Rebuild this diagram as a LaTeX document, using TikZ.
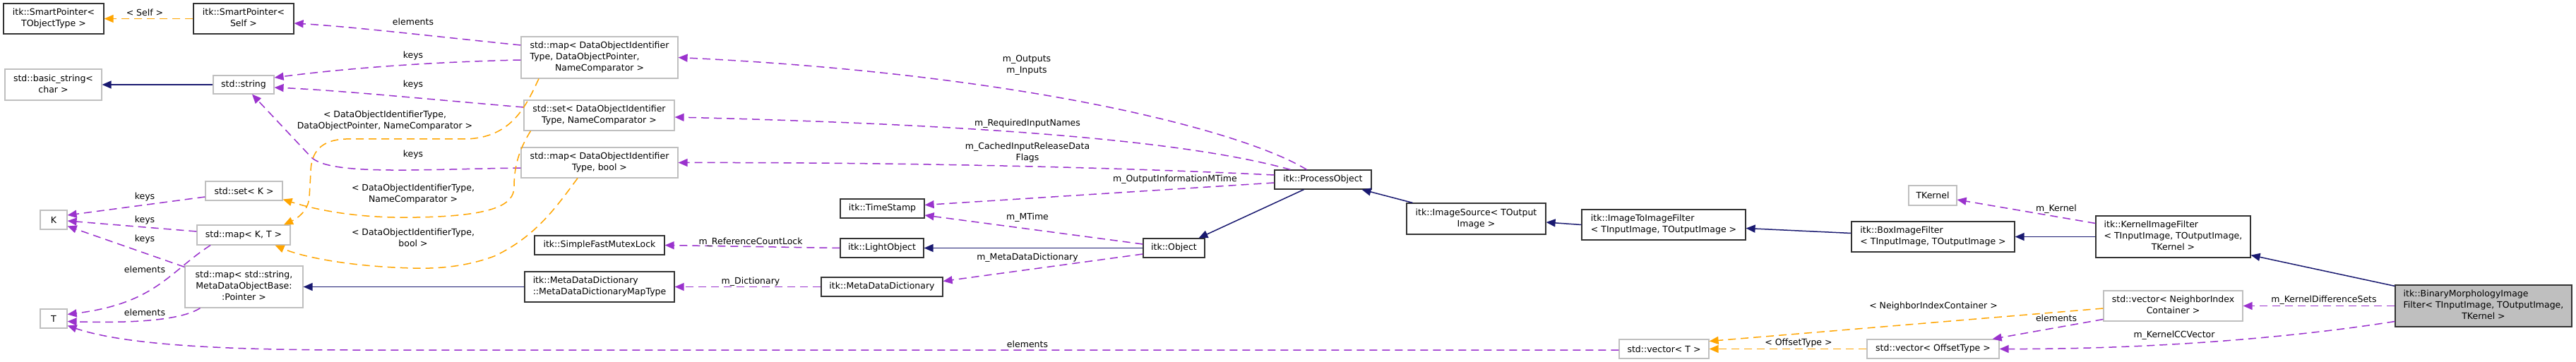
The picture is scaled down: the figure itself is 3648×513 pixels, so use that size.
\documentclass[tikz,border=0pt]{standalone}
\usepackage{fontspec}
\setmainfont{DejaVu Sans}
\usetikzlibrary{arrows.meta,calc}
\definecolor{pur}{HTML}{9A32CD}
\definecolor{org}{HTML}{FFA500}
\definecolor{nav}{HTML}{191970}
\definecolor{gbd}{HTML}{BFBFBF}
\definecolor{bbd}{HTML}{333333}
\newcommand{\Ltab}[1]{\begin{tabular}{@{}l@{}}#1\end{tabular}}
\newcommand{\Ctab}[1]{\begin{tabular}{@{}c@{}}#1\end{tabular}}
\newcommand{\Cl}[1]{\multicolumn{1}{@{}c@{}}{#1}}
\begin{document}
\begin{tikzpicture}[x=0.5pt,y=-0.5pt,
  every node/.style={font=\fontsize{6.25}{8}\selectfont, inner sep=0pt},
  cls/.style 2 args={draw=bbd, line width=0.6pt, fill=white, minimum width=#1*0.5pt, minimum height=#2*0.5pt},
  ext/.style 2 args={draw=gbd, line width=0.6pt, fill=white, minimum width=#1*0.5pt, minimum height=#2*0.5pt},
  usg/.style={draw=pur, line width=0.75pt, dash pattern=on 5.5pt off 3.5pt, -{Triangle[length=6.5pt,width=5.5pt]}},
  tpl/.style={draw=org, line width=0.75pt, dash pattern=on 5.5pt off 3.5pt, -{Triangle[length=6.5pt,width=5.5pt]}},
  inh/.style={draw=nav, line width=0.75pt, -{Triangle[length=6.5pt,width=5.5pt]}},
  lbl/.style={align=center}]
\fill[white] (0,0) rectangle (3648,513);
\useasboundingbox (0,0) rectangle (3648,513);
% nodes
\node[cls={142}{43}] (spT) at (76,26.5) {\Ctab{itk::SmartPointer<\\TObjectType >}};
\node[cls={142}{43}] (spS) at (345,26.5) {\Ctab{itk::SmartPointer<\\Self >}};
\node[ext={137}{44}] (bstr) at (75.5,120) {\Ctab{std::basic\_string<\\char >}};
\node[ext={86}{26}] (str) at (345,120) {std::string};
\node[ext={222}{59}] (mapDOI) at (849,81.5) {\Ltab{std::map< DataObjectIdentifier\\Type, DataObjectPointer,\\\Cl{NameComparator >}}};
\node[ext={213}{43}] (setDOI) at (848.5,163.5) {\Ctab{std::set< DataObjectIdentifier\\Type, NameComparator >}};
\node[ext={222}{43}] (mapBool) at (849,230.5) {\Ctab{std::map< DataObjectIdentifier\\Type, bool >}};
\node[ext={109}{27}] (setK) at (345.5,270.5) {std::set< K >};
\node[ext={38}{27}] (K) at (76,311.5) {K};
\node[ext={132}{28}] (mapKT) at (345,333) {std::map< K, T >};
\node[ext={167}{59}] (mapStr) at (345.5,406.5) {\Ctab{std::map< std::string,\\MetaDataObjectBase:\\:Pointer >}};
\node[ext={38}{27}] (T) at (76,451.5) {T};
\node[cls={119}{27}] (ts) at (1249.5,295.5) {itk::TimeStamp};
\node[cls={184}{27}] (mutex) at (849,347.5) {itk::SimpleFastMutexLock};
\node[cls={118}{27}] (light) at (1249,351.5) {itk::LightObject};
\node[cls={212}{43}] (mddMap) at (849,406.5) {\Ltab{itk::MetaDataDictionary\\::MetaDataDictionaryMapType}};
\node[cls={172}{27}] (mdd) at (1249,406.5) {itk::MetaDataDictionary};
\node[cls={137}{27}] (po) at (1873.5,254.5) {itk::ProcessObject};
\node[cls={87}{27}] (obj) at (1662.5,351.5) {itk::Object};
\node[cls={197}{44}] (isrc) at (2090.5,310) {\Ctab{itk::ImageSource< TOutput\\Image >}};
\node[cls={232}{43}] (i2i) at (2356,318.5) {\Ltab{itk::ImageToImageFilter\\< TInputImage, TOutputImage >}};
\node[ext={68}{28}] (tk) at (2737,277) {TKernel};
\node[cls={231}{43}] (box) at (2737.5,335.5) {\Ltab{itk::BoxImageFilter\\< TInputImage, TOutputImage >}};
\node[cls={219}{59}] (kif) at (3077.5,335.5) {\Ltab{itk::KernelImageFilter\\< TInputImage, TOutputImage,\\\Cl{TKernel >}}};
\node[cls={250}{59}, fill=gbd] (bm) at (3517,433.5) {\Ltab{itk::BinaryMorphologyImage\\Filter< TInputImage, TOutputImage,\\\Cl{TKernel >}}};
\node[ext={197}{43}] (vNIC) at (3077.5,433.5) {\Ctab{std::vector< NeighborIndex\\Container >}};
\node[ext={127}{27}] (vT) at (2356.5,494.5) {std::vector< T >};
\node[ext={187}{27}] (vOff) at (2737.5,494.5) {std::vector< OffsetType >};
% edges
\draw[tpl] (spS.west) -- (spT.east);
\draw[usg] ($(mapDOI.west)+(0,-17.5)$) .. controls (600,50) and (500,38) .. ($(spS.east)+(0,6.5)$);
\draw[usg] ($(mapDOI.west)+(0,3.5)$) .. controls (600,88) and (480,98) .. ($(str.east)+(0,-10)$);
\draw[usg] ($(setDOI.west)+(0,-11.5)$) .. controls (600,140) and (480,128) .. ($(str.east)+(0,4)$);
\draw[usg] ($(mapBool.west)+(0,7.5)$) .. controls (590,240) and (465,249) .. (440,222) -- ($(str.south)+(12,0)$);
\draw[inh] (str.west) -- (bstr.east);
\draw[usg] ($(setK.west)+(0,8.5)$) -- ($(K.east)+(0,-6.5)$);
\draw[usg] ($(mapKT.west)+(0,-5)$) -- ($(K.east)+(0,1.5)$);
\draw[usg] ($(mapStr.north west)+(0,2)$) -- ($(K.east)+(0,9)$);
\draw[usg] ($(mapKT.south)+(-47,0)$) .. controls (240,385) and (220,430) .. ($(T.east)+(0,-6)$);
\draw[usg] ($(mapStr.south)+(-62,0)$) .. controls (255,455) and (180,458) .. ($(T.east)+(0,4)$);
\draw[usg] ($(vT.west)+(0,1.5)$) -- (500,496) .. controls (330,496) and (180,490) .. ($(T.east)+(0,10)$);
\draw[inh] (mddMap.west) -- (mapStr.east);
\draw[tpl] ($(mapDOI.south)+(-86,0)$) .. controls (745,150) and (725,195) .. (660,197) -- (490,197) .. controls (455,198) and (440,215) .. (440,245) -- (438,280) .. controls (436,300) and (420,310) .. ($(mapKT.north)+(57,0)$);
\draw[tpl] ($(setDOI.south)+(-97,0)$) .. controls (733,215) and (728,240) .. (728,265) .. controls (728,290) and (700,306) .. (590,308) .. controls (500,310) and (440,295) .. ($(setK.east)+(0,12)$);
\draw[tpl] ($(mapBool.south)+(-31,0)$) .. controls (790,290) and (760,335) .. (700,363) .. controls (660,378) and (620,381) .. (585,380) .. controls (500,378) and (430,365) .. ($(mapKT.south east)+(-22,0)$);
\draw[usg] ($(po.north)+(-23,0)$) .. controls (1760,185) and (1450,105) .. (mapDOI.east);
\draw[usg] ($(po.north)+(-46,0)$) .. controls (1700,205) and (1450,178) .. ($(setDOI.east)+(0,2.5)$);
\draw[usg] ($(po.west)+(0,-6.5)$) .. controls (1600,238) and (1300,230) .. (mapBool.east);
\draw[usg] ($(po.west)+(0,4.5)$) -- ($(ts.east)+(0,-5)$);
\draw[usg] ($(obj.west)+(0,-5.5)$) -- ($(ts.east)+(0,9.5)$);
\draw[inh] (obj.west) -- (light.east);
\draw[usg] ($(obj.west)+(0,8.5)$) -- ($(mdd.east)+(0,-8)$);
\draw[usg] (light.west) -- (mutex.east);
\draw[usg] (mdd.west) -- (mddMap.east);
\draw[inh] ($(po.south)+(-27,0)$) -- ($(obj.north)+(35,0)$);
\draw[inh] ($(isrc.north)+(-90,0)$) -- ($(po.south)+(55,0)$);
\draw[inh] (i2i.west) -- ($(isrc.east)+(0,5)$);
\draw[inh] ($(box.west)+(0,-5)$) -- ($(i2i.east)+(0,5)$);
\draw[inh] (kif.west) -- (box.east);
\draw[usg] ($(kif.west)+(0,-19)$) -- ($(tk.east)+(0,6)$);
\draw[inh] ($(bm.north west)+(0,2)$) -- ($(kif.south east)+(0,-4)$);
\draw[usg] (bm.west) -- (vNIC.east);
\draw[usg] ($(bm.west)+(0,22)$) .. controls (3250,478) and (3050,495) .. (vOff.east);
\draw[usg] ($(vNIC.west)+(0,19)$) -- ($(vOff.north east)+(-10,0)$);
\draw[tpl] ($(vNIC.west)+(0,3.5)$) -- ($(vT.east)+(0,-11)$);
\draw[tpl] (vOff.west) -- (vT.east);
% labels
\node[lbl] (l1) at (205,18) {< Self >};
\node[lbl] (l2) at (585,31) {elements};
\node[lbl] (l3) at (585,79) {keys};
\node[lbl] (l4) at (585,120) {keys};
\node[lbl] (l5) at (545,171) {< DataObjectIdentifierType,\\DataObjectPointer, NameComparator >};
\node[lbl] (l6) at (585,219) {keys};
\node[lbl] (l7) at (205,279) {keys};
\node[lbl] (l8) at (205,312) {keys};
\node[lbl] (l9) at (205,339) {keys};
\node[lbl] (l10) at (205,382) {elements};
\node[lbl] (l11) at (205,443) {elements};
\node[lbl] (l12) at (585,275) {< DataObjectIdentifierType,\\NameComparator >};
\node[lbl] (l13) at (585,337) {< DataObjectIdentifierType,\\bool >};
\node[lbl] (l14) at (1454,92) {m\_Outputs\\m\_Inputs};
\node[lbl] (l15) at (1455,175) {m\_RequiredInputNames};
\node[lbl] (l16) at (1455,216) {m\_CachedInputReleaseData\\Flags};
\node[lbl] (l17) at (1664,254) {m\_OutputInformationMTime};
\node[lbl] (l18) at (1455,308) {m\_MTime};
\node[lbl] (l19) at (1455,365) {m\_MetaDataDictionary};
\node[lbl] (l20) at (1455,488) {elements};
\node[lbl] (l21) at (1063,343) {m\_ReferenceCountLock};
\node[lbl] (l22) at (1063,399) {m\_Dictionary};
\node[lbl] (l23) at (2912,296) {m\_Kernel};
\node[lbl] (l24) at (3291,425) {m\_KernelDifferenceSets};
\node[lbl] (l25) at (2912,451) {elements};
\node[lbl] (l26) at (3079,475) {m\_KernelCCVector};
\node[lbl] (l27) at (2738,434) {< NeighborIndexContainer >};
\node[lbl] (l28) at (2547,486) {< OffsetType >};
\end{tikzpicture}
\end{document}
